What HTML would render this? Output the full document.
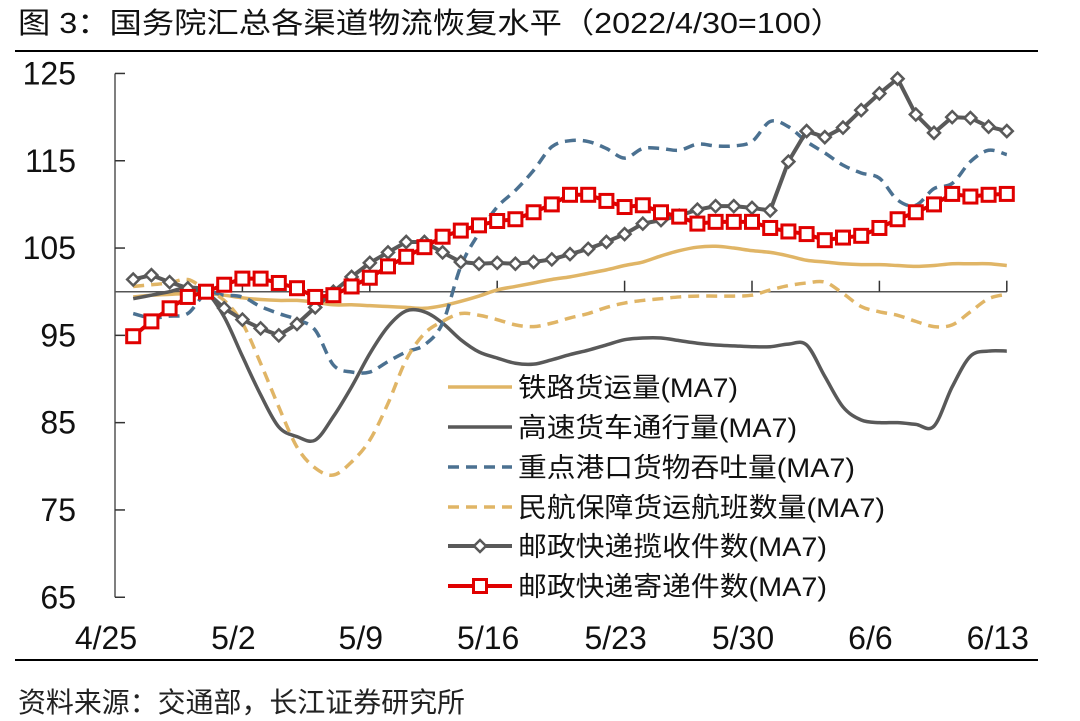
<!DOCTYPE html>
<html><head><meta charset="utf-8"><style>
body{margin:0;background:#fff;width:1080px;height:721px;overflow:hidden;font-family:"Liberation Sans","Noto Sans CJK SC",sans-serif;}
svg{display:block}
</style></head><body>
<svg id="chart" width="1080" height="721" xmlns="http://www.w3.org/2000/svg" font-family="Liberation Sans, Noto Sans CJK SC, sans-serif">
<text x="18" y="33" font-size="29" fill="#111" textLength="825" lengthAdjust="spacingAndGlyphs">图 3：国务院汇总各渠道物流恢复水平（2022/4/30=100）</text>
<line x1="15" y1="51" x2="1038" y2="51" stroke="#000" stroke-width="2"/>
<line x1="15" y1="660" x2="1038" y2="660" stroke="#000" stroke-width="2"/>
<text x="18" y="712" font-size="28" fill="#222" textLength="447" lengthAdjust="spacingAndGlyphs">资料来源：交通部，长江证券研究所</text>
<g id="plot"></g>
</svg>
<script>
const yTicks=[125,115,105,95,85,75,65];
const xTickLabels=['4/25','5/2','5/9','5/16','5/23','5/30','6/6','6/13'];
const rail=[99.4,99.6,99.7,99.8,99.8,99.6,99.3,99.1,99.0,99.0,98.8,98.5,98.5,98.4,98.3,98.2,98.1,98.4,98.9,99.5,100.2,100.6,101.0,101.4,101.7,102.1,102.5,103.0,103.4,104.1,104.7,105.1,105.2,105.0,104.7,104.5,104.1,103.6,103.4,103.2,103.1,103.1,103.0,102.9,103.0,103.2,103.2,103.2,103.0];
const highway=[99.2,99.6,100.0,100.5,100.0,97.1,92.6,88.2,84.5,83.4,83.0,85.7,89.1,92.9,96.0,97.8,97.7,96.4,94.5,93.1,92.4,91.8,91.7,92.2,92.8,93.3,93.9,94.5,94.7,94.7,94.4,94.1,93.9,93.8,93.7,93.7,94.0,93.9,90.3,86.8,85.3,85.0,85.0,84.8,84.6,89.1,92.6,93.2,93.2];
const port=[97.5,97.0,97.2,97.5,99.8,99.6,99.4,98.3,97.5,96.8,95.6,91.6,90.8,90.8,92.0,93.1,93.9,96.4,102.9,106.7,109.7,111.6,113.9,116.6,117.3,117.2,116.4,115.3,116.4,116.4,116.2,116.9,116.7,116.7,117.2,119.5,118.9,117.2,115.9,114.5,113.6,113.0,110.5,109.9,111.8,112.4,114.9,116.2,115.7];
const air=[100.6,100.8,101.0,101.4,100.2,99.0,96.4,91.8,86.8,82.2,79.8,79.0,80.5,83.0,87.2,92.2,95.2,96.6,97.5,97.3,96.8,96.2,96.0,96.4,97.0,97.5,98.2,98.7,99.0,99.2,99.4,99.5,99.5,99.5,99.6,100.2,100.7,101.0,101.1,99.8,98.3,97.7,97.3,96.6,96.0,96.2,97.7,99.2,99.7];
const collect=[101.4,101.9,101.1,100.4,100.0,98.1,96.8,95.8,95.0,96.3,98.2,100.0,101.7,103.3,104.5,105.7,105.7,104.5,103.4,103.2,103.3,103.2,103.4,103.7,104.3,104.9,105.7,106.6,107.8,108.2,108.7,109.4,109.8,109.8,109.6,109.3,114.9,118.4,117.7,118.8,120.8,122.7,124.4,120.3,118.2,120.0,119.9,118.9,118.4];
const deliver=[94.9,96.6,98.1,99.4,100.0,100.8,101.5,101.5,101.0,100.4,99.4,99.6,100.6,101.6,102.9,104.0,105.1,106.3,107.0,107.6,108.1,108.3,109.1,110.0,111.1,111.1,110.4,109.7,109.9,109.1,108.6,107.8,108.0,108.0,108.0,107.3,106.9,106.6,105.9,106.2,106.4,107.3,108.3,109.1,110.0,111.2,110.9,111.1,111.2];

const NS='http://www.w3.org/2000/svg';
const plot=document.getElementById('plot');
const X0=115,DAY=18.2;
const x=d=>X0+d*DAY;
const y=v=>291.7-(v-100)*8.73;
function mk(tag,attrs,parent){const e=document.createElementNS(NS,tag);for(const k in attrs)e.setAttribute(k,attrs[k]);(parent||plot).appendChild(e);return e;}

let ax=mk('line',{x1:X0,y1:y(125),x2:X0,y2:y(65),stroke:'#555','stroke-width':1.5});


yTicks.forEach(v=>{
  let t=mk('line',{x1:X0,y1:y(v),x2:X0+10,y2:y(v),stroke:'#333','stroke-width':1.5});
  
  
  let l=mk('text',{x:76,y:y(v)+11,'text-anchor':'end','font-size':32,fill:'#111'});
  l.textContent=v;
  
  
});
let xa=mk('line',{x1:X0,y1:y(100),x2:x(49),y2:y(100),stroke:'#555','stroke-width':1.5});


xTickLabels.forEach((s,i)=>{
  const d=i*7;
  if(i>0){let t=mk('line',{x1:x(d),y1:y(100),x2:x(d),y2:y(100)-11,stroke:'#333','stroke-width':1.5});
  
  }
  let l=mk('text',{x:x(d)-9,y:649,'text-anchor':'middle','font-size':32,fill:'#111'});
  l.textContent=s;
  
  
});

function smoothPath(arr){
  const p=arr.map((v,i)=>[x(i+1),y(v)]);
  let d='M'+p[0][0]+','+p[0][1];
  for(let i=0;i<p.length-1;i++){
    const p0=p[Math.max(0,i-1)],p1=p[i],p2=p[i+1],p3=p[Math.min(p.length-1,i+2)];
    const c1=[p1[0]+(p2[0]-p0[0])/6,p1[1]+(p2[1]-p0[1])/6];
    const c2=[p2[0]-(p3[0]-p1[0])/6,p2[1]-(p3[1]-p1[1])/6];
    d+=' C'+c1.join(',')+' '+c2.join(',')+' '+p2.join(',');
  }
  return d;
}
function linePath(arr){return arr.map((v,i)=>(i?'L':'M')+x(i+1)+','+y(v)).join(' ');}

let s;
s=mk('path',{d:smoothPath(rail),fill:'none',stroke:'#e0b566','stroke-width':3.5});


s=mk('path',{d:smoothPath(highway),fill:'none',stroke:'#595959','stroke-width':3.5});


s=mk('path',{d:smoothPath(port),fill:'none',stroke:'#4b7191','stroke-width':3.5,'stroke-dasharray':'11,7'});


s=mk('path',{d:smoothPath(air),fill:'none',stroke:'#e0b566','stroke-width':3.5,'stroke-dasharray':'11,7'});


s=mk('path',{d:linePath(collect),fill:'none',stroke:'#595959','stroke-width':4});


collect.forEach((v,i)=>{
  const cx=x(i+1),cy=y(v);
  let m=mk('path',{d:`M${cx},${cy-6} L${cx+6},${cy} L${cx},${cy+6} L${cx-6},${cy} Z`,fill:'#fff',stroke:'#595959','stroke-width':2.5});
  
  
});
s=mk('path',{d:linePath(deliver),fill:'none',stroke:'#e00000','stroke-width':4});


deliver.forEach((v,i)=>{
  let m=mk('rect',{x:x(i+1)-6.5,y:y(v)-6.5,width:13,height:13,fill:'#fff',stroke:'#e00000','stroke-width':3});
  
  
});

const legendNames=['铁路货运量(MA7)','高速货车通行量(MA7)','重点港口货物吞吐量(MA7)','民航保障货运航班数量(MA7)','邮政快递揽收件数(MA7)','邮政快递寄递件数(MA7)'];
const lg=mk('g',{});


const rows=[387,427,467,507,546,586];
const widths=[220,279,337,367,309,309];
const styles=[['#e0b566',''],['#595959',''],['#4b7191','11,7'],['#e0b566','11,7'],['#595959',''],['#e00000','']];
legendNames.forEach((n,i)=>{
  const ry=rows[i];
  let g=mk('g',{},lg);
  
  
  mk('line',{x1:448,y1:ry,x2:512,y2:ry,stroke:styles[i][0],'stroke-width':i>=4?4:3.5,'stroke-dasharray':styles[i][1]},g);
  if(i==4)mk('path',{d:`M480,${ry-6} L486,${ry} L480,${ry+6} L474,${ry} Z`,fill:'#fff',stroke:'#595959','stroke-width':2.5},g);
  if(i==5)mk('rect',{x:473.5,y:ry-6.5,width:13,height:13,fill:'#fff',stroke:'#e00000','stroke-width':3},g);
  let t=mk('text',{x:518,y:ry+10,'font-size':27,fill:'#111',textLength:widths[i],lengthAdjust:'spacingAndGlyphs'},g);
  t.textContent=n;
});
</script>
</body></html>
